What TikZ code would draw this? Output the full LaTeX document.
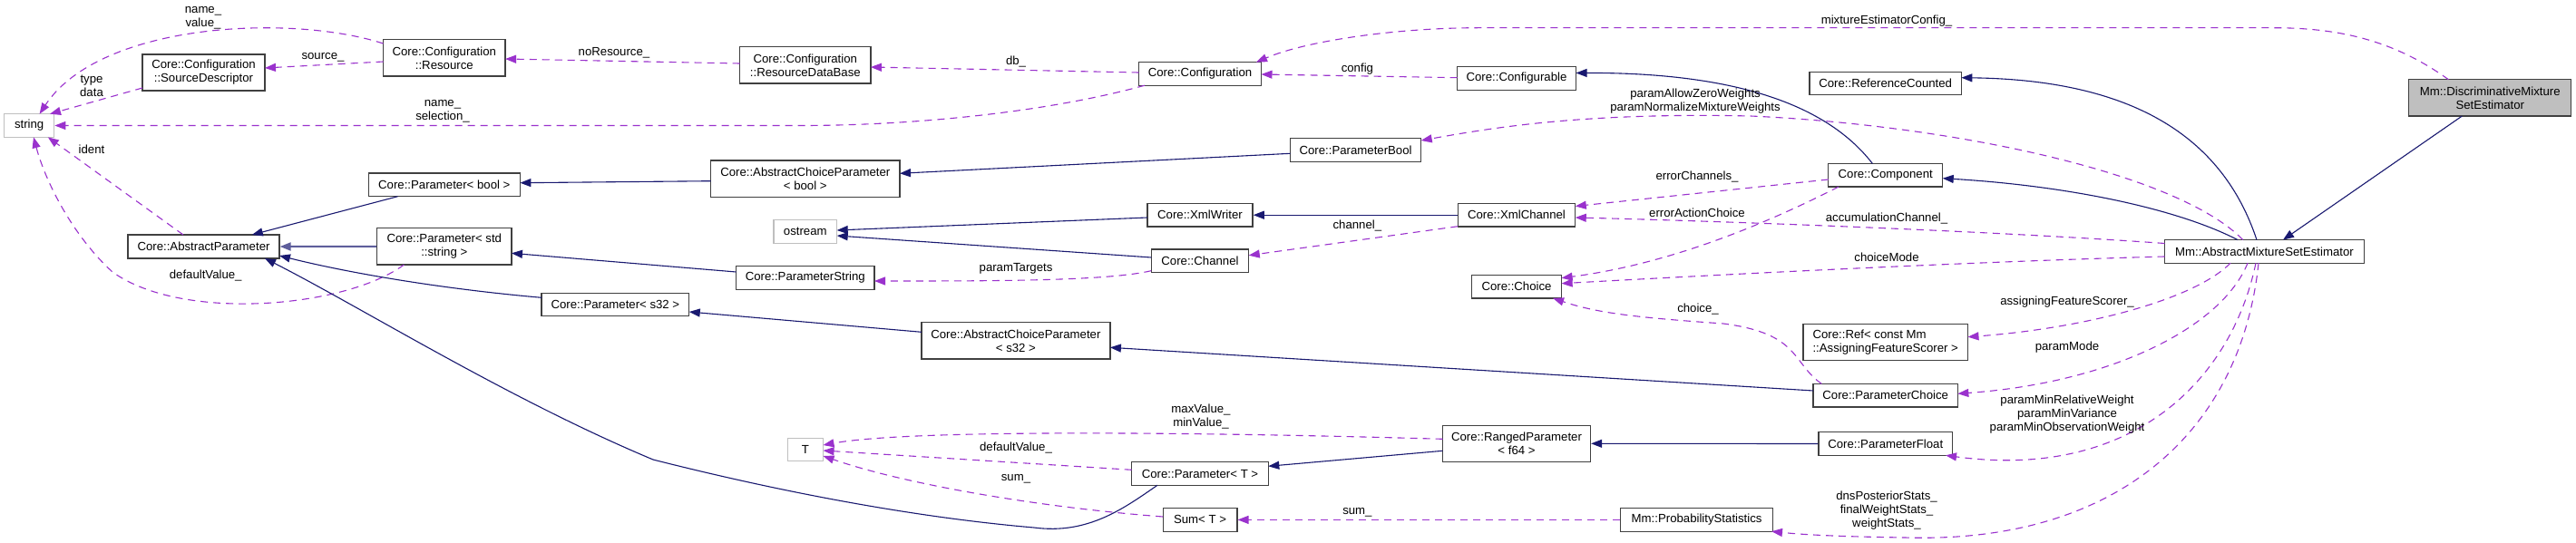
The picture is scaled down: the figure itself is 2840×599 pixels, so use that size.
\documentclass[tikz,border=0pt]{standalone}
\usepackage{fontspec}
\setmainfont{Liberation Sans}
\usetikzlibrary{arrows.meta}
\definecolor{inhc}{HTML}{191970}
\definecolor{usec}{HTML}{9A32CD}
\definecolor{bordc}{HTML}{404040}
\definecolor{grayc}{HTML}{BFBFBF}
\newcommand\dfont{\fontsize{13.2}{15}\selectfont}
\begin{document}
\begin{tikzpicture}[x=1pt,y=-1pt,
 cls/.style={draw=bordc,line width=1.3pt,fill=white,inner sep=0pt,font=\dfont,align=center,minimum height=25.6pt},
 extbox/.style={cls,draw=grayc},
 mainbox/.style={cls,fill=grayc},
 lbl/.style={font=\dfont,align=center,inner sep=0pt},
 inhedge/.style={draw=inhc,line width=1.1pt,-{Triangle[length=12pt,width=9pt]}},
 usedge/.style={draw=usec,line width=1.1pt,dash pattern=on 8pt off 6pt,-{Triangle[length=12pt,width=9pt]}}]
\path[use as bounding box,fill=white] (0,0) rectangle (2840,599);

% nodes
\node[extbox,minimum width=55pt] (string) at (32.2,138.5) {string};
\node[cls,minimum width=135pt,minimum height=40pt] (SD) at (224.5,80) {Core::Configuration\\::SourceDescriptor};
\node[cls,minimum width=134.6pt,minimum height=40.3pt] (Res) at (489.8,63.9) {Core::Configuration\\::Resource};
\node[cls,minimum width=167pt,minimum height=26pt] (AP) at (224.5,272) {Core::AbstractParameter};
\node[cls,minimum width=167.2pt] (PB) at (489.8,203.9) {Core::Parameter< bool >};
\node[cls,minimum width=148.3pt,minimum height=40.3pt] (PStr) at (489.8,271.9) {Core::Parameter< std\\::string >};
\node[cls,minimum width=162.7pt] (PS32) at (678.4,336) {Core::Parameter< s32 >};
\node[cls,minimum width=144.2pt,minimum height=40.3pt] (RDB) at (887.8,71.9) {Core::Configuration\\::ResourceDataBase};
\node[cls,minimum width=135pt] (Conf) at (1323,81.4) {Core::Configuration};
\node[cls,minimum width=208.4pt,minimum height=40.3pt] (ACPB) at (887.8,197.2) {Core::AbstractChoiceParameter\\< bool >};
\node[extbox,minimum width=69.8pt] (ostream) at (887.8,255.5) {ostream};
\node[cls,minimum width=116.2pt] (XW) at (1323,237.2) {Core::XmlWriter};
\node[cls,minimum width=107.5pt] (Chan) at (1323,287.7) {Core::Channel};
\node[cls,minimum width=152.4pt] (PStrg) at (887.8,306.5) {Core::ParameterString};
\node[cls,minimum width=208pt,minimum height=40.3pt] (ACPS) at (1119.9,375.9) {Core::AbstractChoiceParameter\\< s32 >};
\node[extbox,minimum width=39pt] (T) at (888,496) {T};
\node[cls,minimum width=150.6pt] (PT) at (1323,522.5) {Core::Parameter< T >};
\node[cls,minimum width=81.7pt] (SumT) at (1323,573.4) {Sum< T >};
\node[cls,minimum width=131pt] (Cfgb) at (1672,86.5) {Core::Configurable};
\node[cls,minimum width=144.2pt] (PBool) at (1494.6,165.5) {Core::ParameterBool};
\node[cls,minimum width=129.5pt] (XC) at (1672,237.2) {Core::XmlChannel};
\node[cls,minimum width=99.2pt] (Choice) at (1672,316.2) {Core::Choice};
\node[cls,minimum width=163pt,minimum height=40.3pt] (RP) at (1672,489.3) {Core::RangedParameter\\< f64 >};
\node[cls,minimum width=168pt] (Prob) at (1870.6,573.4) {Mm::ProbabilityStatistics};
\node[cls,minimum width=181.6pt,minimum height=40.3pt,align=left] (Ref) at (2078.7,377.3) {Core::Ref< const Mm\\::AssigningFeatureScorer >};
\node[cls,minimum width=159.3pt] (PC) at (2078.7,436.2) {Core::ParameterChoice};
\node[cls,minimum width=147.3pt] (PF) at (2078.7,489.5) {Core::ParameterFloat};
\node[cls,minimum width=126pt] (Comp) at (2078.7,193.3) {Core::Component};
\node[cls,minimum width=167.3pt] (RC) at (2078.7,92) {Core::ReferenceCounted};
\node[mainbox,minimum width=179pt,minimum height=40.3pt] (DMSE) at (2745.3,107.9) {Mm::DiscriminativeMixture\\SetEstimator};
\node[cls,minimum width=220pt] (AMSE) at (2496.5,277.4) {Mm::AbstractMixtureSetEstimator};

% usage (dashed) edges
\draw[usedge] ([shift={(-67.3,-15.9)}]Res.center) .. controls (320,15) and (110,25) .. ([shift={(11.4,-12.8)}]string.center);
\draw[usedge] ([shift={(-67.5,17)}]SD.center) -- ([shift={(22.8,-12.8)}]string.center);
\draw[usedge] ([shift={(-67.3,4.1)}]Res.center) -- ([shift={(67.5,-5)}]SD.center);
\draw[usedge] ([shift={(-72.1,-1.9)}]RDB.center) -- ([shift={(67.3,1.1)}]Res.center);
\draw[usedge] ([shift={(-67.5,-1.4)}]Conf.center) -- ([shift={(72.1,2.1)}]RDB.center);
\draw[usedge] ([shift={(-61,12.8)}]Conf.center) .. controls (1150,125) and (1000,138.5) .. (884,138.5) -- (string.east);
\draw[usedge] ([shift={(-65.5,-0.8)}]Cfgb.center) -- ([shift={(67.5,0.6)}]Conf.center);
\draw[usedge] ([shift={(-45.9,-20.15)}]DMSE.center) .. controls (2640,45) and (2580,30.7) .. (2506.6,30.7) -- (1629.6,30.7) .. controls (1540,30.7) and (1440,45) .. ([shift={(62,-12.8)}]Conf.center);
\draw[usedge] ([shift={(-23.7,-12.8)}]AMSE.center) .. controls (2400,190) and (2150,138) .. (1930,128) .. controls (1750,124) and (1650,140) .. ([shift={(72.1,-10.5)}]PBool.center);
\draw[usedge] ([shift={(-63,4.7)}]Comp.center) -- ([shift={(64.75,-9.7)}]XC.center);
\draw[usedge] ([shift={(-110,-8.9)}]AMSE.center) .. controls (2200,255) and (1900,244) .. ([shift={(64.75,2.8)}]XC.center);
\draw[usedge] ([shift={(-51.7,12.8)}]Comp.center) .. controls (1960,240) and (1850,290) .. ([shift={(49.6,-9.5)}]Choice.center);
\draw[usedge] ([shift={(-110,5.6)}]AMSE.center) .. controls (2200,288) and (1950,300) .. ([shift={(49.6,-3.5)}]Choice.center);
\draw[usedge] ([shift={(-70.4,-12.8)}]PC.center) .. controls (1975,400) and (1985,368) .. (1900,357) .. controls (1800,350) and (1760,345) .. ([shift={(40,12.8)}]Choice.center);
\draw[usedge] ([shift={(-37.5,12.8)}]AMSE.center) .. controls (2420,330) and (2300,362) .. ([shift={(90.8,-5.6)}]Ref.center);
\draw[usedge] ([shift={(-18.5,12.8)}]AMSE.center) .. controls (2450,360) and (2330,422) .. ([shift={(79.65,-1.9)}]PC.center);
\draw[usedge] ([shift={(-9.5,12.8)}]AMSE.center) .. controls (2460,420) and (2350,530) .. ([shift={(66.3,12.8)}]PF.center);
\draw[usedge] ([shift={(-6.5,12.8)}]AMSE.center) .. controls (2470,480) and (2330,600) .. (2100,593) .. controls (2030,592) and (1990,590) .. ([shift={(82.4,12.8)}]Prob.center);
\draw[usedge] ([shift={(-81.5,-5)}]RP.center) .. controls (1300,476) and (1000,474) .. ([shift={(19.5,-5)}]T.center);
\draw[usedge] ([shift={(-75.3,-4.2)}]PT.center) -- ([shift={(19.5,1)}]T.center);
\draw[usedge] ([shift={(-40.85,-3.4)}]SumT.center) .. controls (1150,560) and (1000,535) .. ([shift={(19.5,7)}]T.center);
\draw[usedge] (Prob.west) -- (SumT.east);
\draw[usedge] ([shift={(-44.4,20.15)}]PStr.center) .. controls (380,340) and (200,355) .. (124,300) .. controls (80,260) and (50,200) .. ([shift={(4.8,12.8)}]string.center);
\draw[usedge] ([shift={(-22.5,-13)}]AP.center) -- ([shift={(20.6,12.8)}]string.center);
\draw[usedge] ([shift={(-53.75,11)}]Chan.center) .. controls (1220,310) and (1100,310) .. ([shift={(76.2,3.5)}]PStrg.center);
\draw[usedge] ([shift={(-64.75,12.5)}]XC.center) -- ([shift={(53.75,-6)}]Chan.center);

% inheritance (solid) edges
\draw[inhedge] ([shift={(-51.3,12.8)}]PB.center) -- ([shift={(53.3,-13)}]AP.center);
\draw[inhedge,line width=2pt,draw=inhc!70] (PStr.west) -- (AP.east);
\draw[inhedge] ([shift={(-81.35,-7.7)}]PS32.center) .. controls (480,318) and (380,300) .. ([shift={(83.5,10)}]AP.center);
\draw[inhedge] ([shift={(-47,12.8)}]PT.center) .. controls (1240,560) and (1200,590) .. (1140,582) .. controls (1000,570) and (850,540) .. (720,507) .. controls (560,440) and (400,340) .. ([shift={(67.5,13)}]AP.center);
\draw[inhedge] ([shift={(-104.2,2.5)}]ACPB.center) -- ([shift={(83.6,-2.2)}]PB.center);
\draw[inhedge] ([shift={(-76.2,-6.5)}]PStrg.center) -- ([shift={(74.15,7.4)}]PStr.center);
\draw[inhedge] ([shift={(-104,-9.6)}]ACPS.center) -- ([shift={(81.35,8)}]PS32.center);
\draw[inhedge] ([shift={(-72.1,3.8)}]PBool.center) -- ([shift={(104.2,-5.9)}]ACPB.center);
\draw[inhedge] ([shift={(-58.1,2.8)}]XW.center) -- ([shift={(34.9,-1.5)}]ostream.center);
\draw[inhedge] ([shift={(-53.75,-3.7)}]Chan.center) -- ([shift={(34.9,4.5)}]ostream.center);
\draw[inhedge] (XC.west) -- (XW.east);
\draw[inhedge] ([shift={(-79.65,-5.2)}]PC.center) -- ([shift={(104,7.4)}]ACPS.center);
\draw[inhedge] (PF.west) -- (RP.east);
\draw[inhedge] ([shift={(-81.5,8)}]RP.center) -- ([shift={(75.3,-8.2)}]PT.center);
\draw[inhedge] ([shift={(-14.3,-12.8)}]Comp.center) .. controls (2010,110) and (1900,80) .. ([shift={(65.5,-6)}]Cfgb.center);
\draw[inhedge] ([shift={(-8.5,-12.8)}]AMSE.center) .. controls (2450,150) and (2350,88) .. ([shift={(83.65,-6.3)}]RC.center);
\draw[inhedge] ([shift={(-29.5,-12.8)}]AMSE.center) .. controls (2400,230) and (2280,205) .. ([shift={(63,3.4)}]Comp.center);
\draw[inhedge] ([shift={(-31,20.15)}]DMSE.center) -- ([shift={(20.5,-12.8)}]AMSE.center);

% labels
\node[lbl] (l1) at (224,19.5) {name\_\\value\_};
\node[lbl] (l2) at (101,95) {type\\data};
\node[lbl] (l3) at (356,63) {source\_};
\node[lbl] (l4) at (677,58.7) {noResource\_};
\node[lbl] (l5) at (1120,67.7) {db\_};
\node[lbl] (l6) at (488,123.2) {name\_\\selection\_};
\node[lbl] (l7) at (1496.4,76) {config};
\node[lbl] (l8) at (2080,22.7) {mixtureEstimatorConfig\_};
\node[lbl] (l9) at (1869,112) {paramAllowZeroWeights\\paramNormalizeMixtureWeights};
\node[lbl] (l10) at (1871,195) {errorChannels\_};
\node[lbl] (l11) at (2080,241) {accumulationChannel\_};
\node[lbl] (l12) at (1871,235) {errorActionChoice};
\node[lbl] (l13) at (2080,283.3) {choiceMode};
\node[lbl] (l14) at (1872,340.7) {choice\_};
\node[lbl] (l15) at (2279,332.7) {assigningFeatureScorer\_};
\node[lbl] (l16) at (2279,382.7) {paramMode};
\node[lbl] (l17) at (2279,457) {paramMinRelativeWeight\\paramMinVariance\\paramMinObservationWeight};
\node[lbl] (l18) at (2080,563.3) {dnsPosteriorStats\_\\finalWeightStats\_\\weightStats\_};
\node[lbl] (l19) at (1324,460) {maxValue\_\\minValue\_};
\node[lbl] (l20) at (1120,494.3) {defaultValue\_};
\node[lbl] (l21) at (1120,528.3) {sum\_};
\node[lbl] (l22) at (1496.4,565) {sum\_};
\node[lbl] (l23) at (226.7,304.3) {defaultValue\_};
\node[lbl] (l24) at (101,164.3) {ident};
\node[lbl] (l25) at (1120,296) {paramTargets};
\node[lbl] (l26) at (1496.4,248.7) {channel\_};
\end{tikzpicture}
\end{document}
